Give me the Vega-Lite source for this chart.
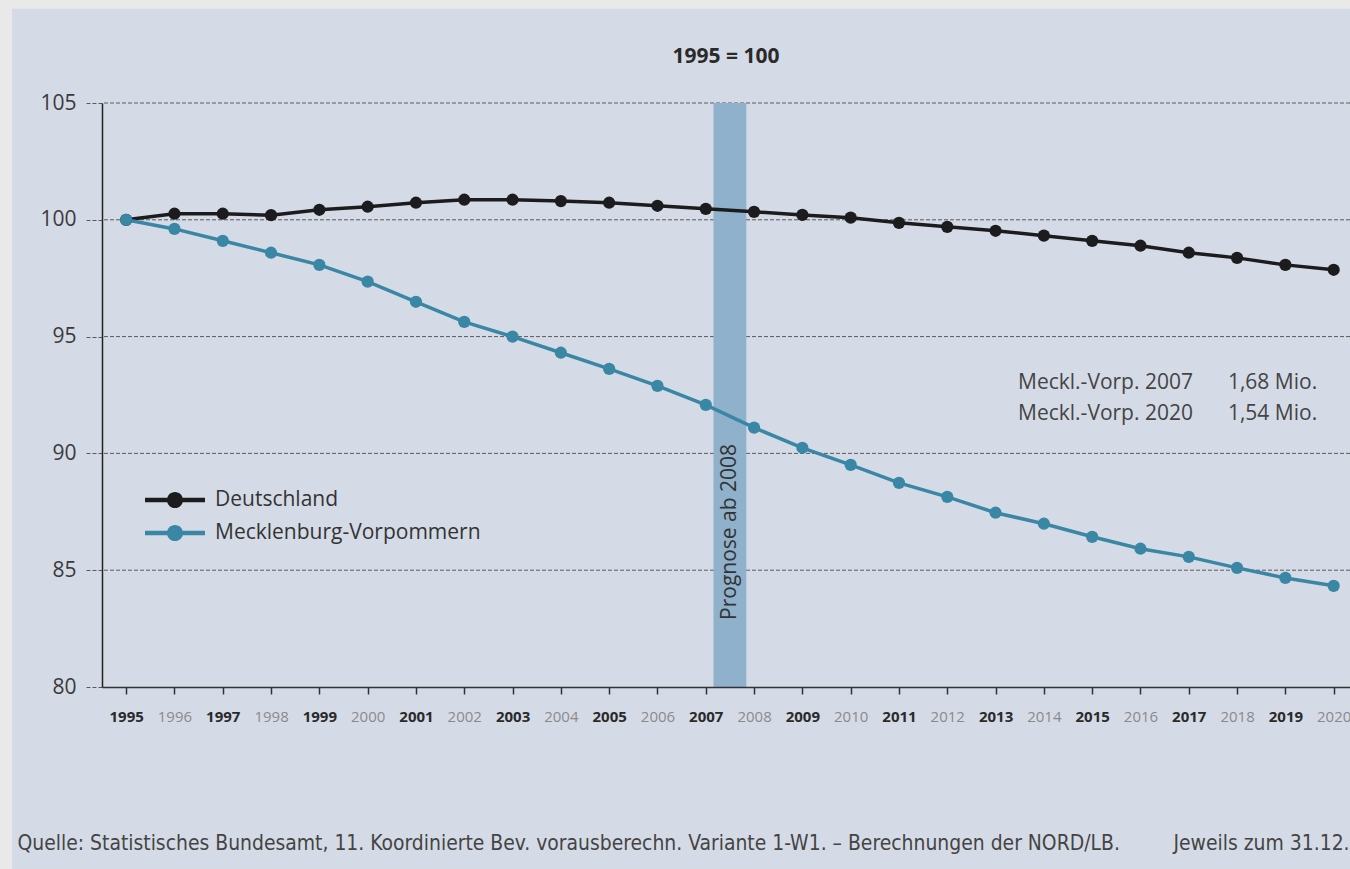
{
  "$schema": "https://vega.github.io/schema/vega-lite/v6.json",
  "width": 1248,
  "height": 584,
  "autosize": {"type": "none"},
  "padding": {"left": 102, "top": 103, "right": 0, "bottom": 182},
  "background": "#e9e9e9",
  "config": {
    "font": "Open Sans",
    "view": {"stroke": null}
  },
  "title": {
    "text": "1995 = 100",
    "fontSize": 21,
    "fontWeight": "bold",
    "color": "#2a2a2a",
    "font": "Open Sans",
    "anchor": "middle",
    "offset": 41,
    "dy": 99,
    "zindex": 1
  },
  "datasets": {
    "series": [
      {"year": 1995, "region": "Deutschland", "value": 100},
      {"year": 1996, "region": "Deutschland", "value": 100.26},
      {"year": 1997, "region": "Deutschland", "value": 100.26},
      {"year": 1998, "region": "Deutschland", "value": 100.2},
      {"year": 1999, "region": "Deutschland", "value": 100.43},
      {"year": 2000, "region": "Deutschland", "value": 100.56},
      {"year": 2001, "region": "Deutschland", "value": 100.73},
      {"year": 2002, "region": "Deutschland", "value": 100.86},
      {"year": 2003, "region": "Deutschland", "value": 100.86},
      {"year": 2004, "region": "Deutschland", "value": 100.8},
      {"year": 2005, "region": "Deutschland", "value": 100.73},
      {"year": 2006, "region": "Deutschland", "value": 100.6},
      {"year": 2007, "region": "Deutschland", "value": 100.47},
      {"year": 2008, "region": "Deutschland", "value": 100.34},
      {"year": 2009, "region": "Deutschland", "value": 100.21},
      {"year": 2010, "region": "Deutschland", "value": 100.09},
      {"year": 2011, "region": "Deutschland", "value": 99.87},
      {"year": 2012, "region": "Deutschland", "value": 99.7},
      {"year": 2013, "region": "Deutschland", "value": 99.53},
      {"year": 2014, "region": "Deutschland", "value": 99.32},
      {"year": 2015, "region": "Deutschland", "value": 99.1},
      {"year": 2016, "region": "Deutschland", "value": 98.89},
      {"year": 2017, "region": "Deutschland", "value": 98.59},
      {"year": 2018, "region": "Deutschland", "value": 98.37},
      {"year": 2019, "region": "Deutschland", "value": 98.07},
      {"year": 2020, "region": "Deutschland", "value": 97.86},
      {"year": 1995, "region": "Mecklenburg-Vorpommern", "value": 100},
      {"year": 1996, "region": "Mecklenburg-Vorpommern", "value": 99.61},
      {"year": 1997, "region": "Mecklenburg-Vorpommern", "value": 99.1},
      {"year": 1998, "region": "Mecklenburg-Vorpommern", "value": 98.59},
      {"year": 1999, "region": "Mecklenburg-Vorpommern", "value": 98.07},
      {"year": 2000, "region": "Mecklenburg-Vorpommern", "value": 97.35},
      {"year": 2001, "region": "Mecklenburg-Vorpommern", "value": 96.49},
      {"year": 2002, "region": "Mecklenburg-Vorpommern", "value": 95.63},
      {"year": 2003, "region": "Mecklenburg-Vorpommern", "value": 95.0},
      {"year": 2004, "region": "Mecklenburg-Vorpommern", "value": 94.31},
      {"year": 2005, "region": "Mecklenburg-Vorpommern", "value": 93.62},
      {"year": 2006, "region": "Mecklenburg-Vorpommern", "value": 92.89},
      {"year": 2007, "region": "Mecklenburg-Vorpommern", "value": 92.08},
      {"year": 2008, "region": "Mecklenburg-Vorpommern", "value": 91.1},
      {"year": 2009, "region": "Mecklenburg-Vorpommern", "value": 90.24},
      {"year": 2010, "region": "Mecklenburg-Vorpommern", "value": 89.51},
      {"year": 2011, "region": "Mecklenburg-Vorpommern", "value": 88.74},
      {"year": 2012, "region": "Mecklenburg-Vorpommern", "value": 88.14},
      {"year": 2013, "region": "Mecklenburg-Vorpommern", "value": 87.46},
      {"year": 2014, "region": "Mecklenburg-Vorpommern", "value": 86.99},
      {"year": 2015, "region": "Mecklenburg-Vorpommern", "value": 86.43},
      {"year": 2016, "region": "Mecklenburg-Vorpommern", "value": 85.92},
      {"year": 2017, "region": "Mecklenburg-Vorpommern", "value": 85.57},
      {"year": 2018, "region": "Mecklenburg-Vorpommern", "value": 85.1},
      {"year": 2019, "region": "Mecklenburg-Vorpommern", "value": 84.67},
      {"year": 2020, "region": "Mecklenburg-Vorpommern", "value": 84.33}
    ],
    "gridlines": [
      {"level": 85}, {"level": 90}, {"level": 95}, {"level": 100}, {"level": 105}
    ],
    "prognose": [
      {"start": 2007.16, "end": 2007.84, "label": "Prognose ab 2008"}
    ]
  },
  "layer": [
    {
      "data": {"values": [{}]},
      "mark": {"type": "rect", "fill": "#d5dbe6", "clip": false},
      "encoding": {
        "x": {"datum": 1992.637, "type": "quantitative"},
        "x2": {"datum": 2030},
        "y": {"datum": 109.03, "type": "quantitative"},
        "y2": {"datum": 70}
      }
    },
    {
      "data": {"name": "gridlines"},
      "mark": {"type": "rule", "color": "#5a5a5a", "strokeWidth": 1, "strokeDash": [4, 2]},
      "encoding": {
        "y": {"field": "level", "type": "quantitative"}
      }
    },
    {
      "data": {"name": "prognose"},
      "mark": {"type": "rect", "fill": "#8fb1cc"},
      "encoding": {
        "x": {"field": "start", "type": "quantitative"},
        "x2": {"field": "end"}
      }
    },
    {
      "data": {"name": "prognose"},
      "mark": {"type": "text", "angle": 270, "align": "left", "baseline": "middle", "fontSize": 21, "color": "#333333", "font": "Open Sans"},
      "encoding": {
        "x": {"datum": 2007.5, "type": "quantitative"},
        "y": {"datum": 82.87, "type": "quantitative"},
        "text": {"field": "label"}
      }
    },
    {
      "data": {"values": [{}]},
      "mark": {"type": "text", "text": ["Meckl.-Vorp. 2007", "Meckl.-Vorp. 2020"], "lineHeight": 31, "align": "left", "baseline": "top", "fontSize": 21, "color": "#444444", "font": "Open Sans"},
      "encoding": {
        "x": {"datum": 2013.465, "type": "quantitative"},
        "y": {"datum": 93.47, "type": "quantitative"}
      }
    },
    {
      "data": {"values": [{}]},
      "mark": {"type": "text", "text": ["1,68 Mio.", "1,54 Mio."], "lineHeight": 31, "align": "left", "baseline": "top", "fontSize": 21, "color": "#444444", "font": "Open Sans"},
      "encoding": {
        "x": {"datum": 2017.81, "type": "quantitative"},
        "y": {"datum": 93.47, "type": "quantitative"}
      }
    },
    {
      "data": {"name": "series"},
      "mark": {"type": "line", "strokeWidth": 3.5},
      "encoding": {
        "x": {"field": "year", "type": "quantitative"},
        "y": {"field": "value", "type": "quantitative"},
        "color": {"field": "region", "type": "nominal"}
      }
    },
    {
      "data": {"name": "series"},
      "mark": {"type": "point", "filled": true, "opacity": 1, "size": 150, "shape": "circle"},
      "encoding": {
        "x": {
          "field": "year",
          "type": "quantitative",
          "scale": {"domain": [1994.5, 2020.3379], "nice": false, "zero": false},
          "axis": {
            "values": [1995, 1996, 1997, 1998, 1999, 2000, 2001, 2002, 2003, 2004, 2005, 2006, 2007, 2008, 2009, 2010, 2011, 2012, 2013, 2014, 2015, 2016, 2017, 2018, 2019, 2020],
            "format": "d",
            "grid": false,
            "zindex": 1,
            "domainColor": "#333333",
            "domainWidth": 1.5,
            "tickColor": "#333333",
            "tickSize": 7,
            "tickWidth": 1.5,
            "labelFont": "Open Sans",
            "labelFontSize": 15,
            "labelPadding": 15,
            "labelFlush": false,
            "labelOverlap": false,
            "labelColor": {"condition": {"test": "datum.value % 2 == 0", "value": "#8a8a8a"}, "value": "#2a2a2a"},
            "labelFontWeight": {"condition": {"test": "datum.value % 2 == 0", "value": "normal"}, "value": "bold"},
            "title": "Quelle: Statistisches Bundesamt, 11. Koordinierte Bev. vorausberechn. Variante 1-W1. – Berechnungen der NORD/LB.",
            "titleX": -85,
            "titleY": 162,
            "titleAlign": "left",
            "titleAnchor": null,
            "titleBaseline": "alphabetic",
            "titleFont": "DejaVu Sans Condensed",
            "titleFontSize": 20.9,
            "titleFontWeight": "normal",
            "titleColor": "#444444"
          }
        },
        "y": {
          "field": "value",
          "type": "quantitative",
          "scale": {"domain": [80, 105], "nice": false, "zero": false},
          "axis": {
            "values": [80, 85, 90, 95, 100, 105],
            "grid": false,
            "zindex": 1,
            "domainColor": "#222222",
            "domainWidth": 1.5,
            "tickColor": "#5a5a5a",
            "tickSize": 17,
            "tickWidth": 1,
            "tickDash": [4, 2],
            "labelFont": "Open Sans",
            "labelFontSize": 21,
            "labelPadding": 9,
            "labelColor": "#3a3a3a",
            "labelFlush": false,
            "title": "Jeweils zum 31.12.",
            "titleAngle": 0,
            "titleX": 1071,
            "titleY": 746,
            "titleAlign": "left",
            "titleAnchor": null,
            "titleBaseline": "alphabetic",
            "titleFont": "DejaVu Sans Condensed",
            "titleFontSize": 20.9,
            "titleFontWeight": "normal",
            "titleColor": "#444444"
          }
        },
        "color": {
          "field": "region",
          "type": "nominal",
          "scale": {"domain": ["Deutschland", "Mecklenburg-Vorpommern"], "range": ["#1c1c1e", "#3a87a5"]},
          "legend": {
            "orient": "none",
            "legendX": 61,
            "legendY": 385,
            "title": null,
            "padding": 0,
            "symbolType": "M-2.5,-0.18L2.5,-0.18L2.5,0.18L-2.5,0.18Z M-0.67,0A0.67,0.67 0 1,1 0.67,0A0.67,0.67 0 1,1 -0.67,0Z",
            "symbolSize": 576,
            "symbolStrokeWidth": 0,
            "symbolOpacity": 1,
            "labelFont": "Open Sans",
            "labelFontSize": 21,
            "labelLimit": 0,
            "labelColor": "#333333",
            "labelOffset": 28,
            "rowPadding": 11,
            "zindex": 1,
            "encode": {
              "symbols": {
                "update": {
                  "fill": {"scale": "color", "field": "value"},
                  "strokeWidth": {"value": 0},
                  "opacity": {"value": 1}
                }
              }
            }
          }
        }
      }
    }
  ]
}
